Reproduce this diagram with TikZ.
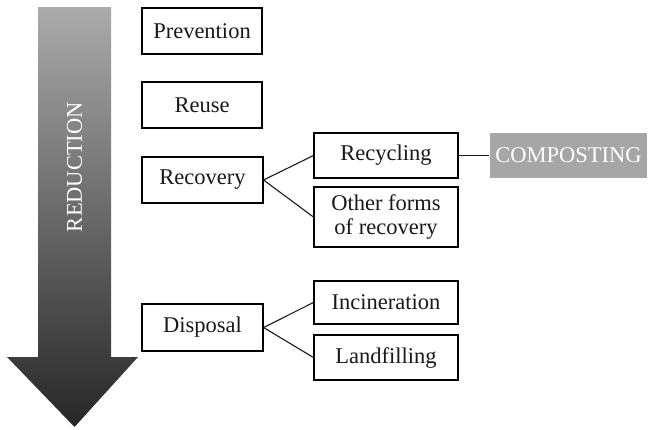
\documentclass[tikz,border=0pt]{standalone}
\usepackage{fontspec}
\setmainfont{Liberation Serif}
\begin{document}
\begin{tikzpicture}[x=1pt,y=-1pt,
  box/.style={draw=black,line width=1.1pt,fill=white,inner sep=0pt,align=center,
    font=\fontsize{22.5}{24}\selectfont,text=black!90},
  conn/.style={line width=1.1pt,draw=black!90}]
\useasboundingbox (0,0) rectangle (656,429);
\shade[top color=black!33,bottom color=black!85]
  (38,7) -- (111,7) -- (111,357) -- (138,357) -- (74.5,427) -- (7,357) -- (38,357) -- cycle;
\node[rotate=90,text=white,font=\fontsize{22.5}{24}\selectfont] (red) at (74.5,167) {REDUCTION};
\node[box,minimum width=120,minimum height=46] (prev) at (202,31) {Prevention};
\node[box,minimum width=120,minimum height=46] (reuse) at (202,105) {Reuse};
\node[box,minimum width=121,minimum height=46] (recov) at (202.5,180) {Recovery};
\node[box,minimum width=144,minimum height=45] (recyc) at (386,155.5) {Recycling};
\node[box,minimum width=144,minimum height=60] (other) at (386,217) {Other forms\\of recovery};
\node[box,draw=none,fill=black!35,text=white,minimum width=157,minimum height=45] (comp) at (568.5,155.5) {COMPOSTING};
\node[box,minimum width=121,minimum height=47] (disp) at (202.5,327.5) {Disposal};
\node[box,minimum width=144,minimum height=43] (incin) at (386,302.5) {Incineration};
\node[box,minimum width=144,minimum height=45] (land) at (386,357.5) {Landfilling};
\draw[conn] (recov.east) -- (recyc.west);
\draw[conn] (recov.east) -- (other.west);
\draw[conn] (recyc.east) -- (comp.west);
\draw[conn] (disp.east) -- (incin.west);
\draw[conn] (disp.east) -- (land.west);
\end{tikzpicture}
\end{document}
